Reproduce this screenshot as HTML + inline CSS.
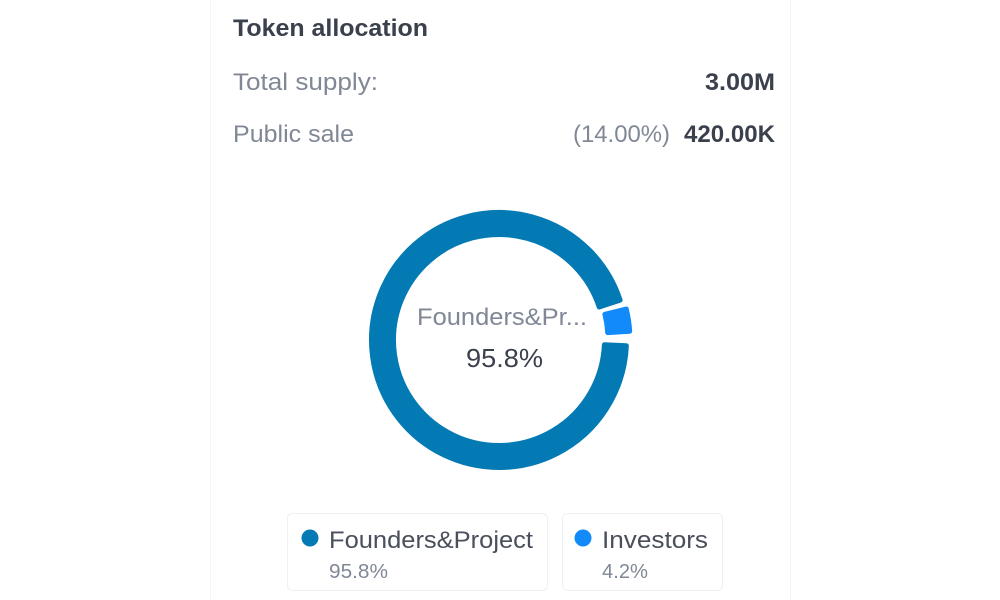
<!DOCTYPE html>
<html>
<head>
<meta charset="utf-8">
<style>
  html, body { margin:0; padding:0; background:#ffffff; }
  svg { display:block; }
  text { font-family: "Liberation Sans", sans-serif; }
</style>
</head>
<body>
<svg width="1000" height="600" viewBox="0 0 1000 600" xmlns="http://www.w3.org/2000/svg">
  <rect x="0" y="0" width="1000" height="600" fill="#ffffff"/>
  <!-- card -->
  <rect x="210.5" y="-12" width="580" height="640" rx="10" fill="#ffffff" stroke="#f3f4f5" stroke-width="1"/>

  <!-- header -->
  <text x="233" y="36" font-size="24" font-weight="bold" fill="#3b404d" textLength="195" lengthAdjust="spacingAndGlyphs">Token allocation</text>
  <text x="233" y="90" font-size="24" fill="#808896" textLength="145" lengthAdjust="spacingAndGlyphs">Total supply:</text>
  <text x="705" y="90" font-size="24" font-weight="bold" fill="#3b404d" textLength="70" lengthAdjust="spacingAndGlyphs">3.00M</text>
  <text x="233" y="142" font-size="24" fill="#808896" textLength="121" lengthAdjust="spacingAndGlyphs">Public sale</text>
  <text x="573" y="142" font-size="24" fill="#808896" textLength="97" lengthAdjust="spacingAndGlyphs">(14.00%)</text>
  <text x="684" y="142" font-size="24" font-weight="bold" fill="#3b404d" textLength="91" lengthAdjust="spacingAndGlyphs">420.00K</text>

  <!-- donut -->
  <path d="M626.37,345.78 A127.5,127.5 0 1 1 620.12,300.18 L599.22,307.05 A105.5,105.5 0 1 0 604.39,344.79 Z"
        fill="#047ab4" stroke="#047ab4" stroke-width="5" stroke-linejoin="round"/>
  <path d="M626.28,309.06 A127.5,127.5 0 0 1 629.69,331.24 L607.74,332.66 A105.5,105.5 0 0 0 604.91,314.31 Z"
        fill="#138afa" stroke="#138afa" stroke-width="5" stroke-linejoin="round"/>

  <text x="417" y="325" font-size="24" fill="#808896" textLength="170" lengthAdjust="spacingAndGlyphs">Founders&amp;Pr...</text>
  <text x="466" y="367" font-size="26" fill="#3b404d" textLength="77" lengthAdjust="spacingAndGlyphs">95.8%</text>

  <!-- legend -->
  <rect x="287.5" y="513.5" width="260" height="77" rx="5" fill="#ffffff" stroke="#eef0f2" stroke-width="1"/>
  <circle cx="310" cy="538" r="8.5" fill="#047ab4"/>
  <text x="329" y="548" font-size="24" fill="#4a4f5c" textLength="204" lengthAdjust="spacingAndGlyphs">Founders&amp;Project</text>
  <text x="329" y="578" font-size="20" fill="#808896" textLength="59" lengthAdjust="spacingAndGlyphs">95.8%</text>

  <rect x="562.5" y="513.5" width="160" height="77" rx="5" fill="#ffffff" stroke="#eef0f2" stroke-width="1"/>
  <circle cx="583" cy="538" r="8.5" fill="#138afa"/>
  <text x="602" y="548" font-size="24" fill="#4a4f5c" textLength="106" lengthAdjust="spacingAndGlyphs">Investors</text>
  <text x="602" y="578" font-size="20" fill="#808896" textLength="46" lengthAdjust="spacingAndGlyphs">4.2%</text>
</svg>
</body>
</html>
